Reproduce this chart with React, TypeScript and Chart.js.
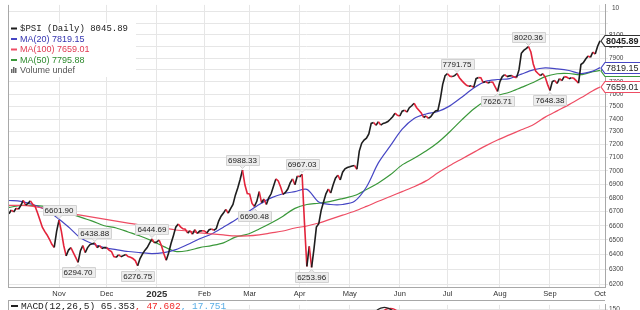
import React, { useEffect, useRef } from 'react';
import { Chart, registerables } from 'chart.js';

Chart.register(...registerables);
Chart.defaults.font.family = '"Liberation Sans", Arial, sans-serif';

// ---------------- DATA ----------------
// trading-day index: 0 = 1 Nov 2024; first close is index -21 (early Oct 2024)
const START_INDEX = -21;
const oct2024 = [6685, 6712, 6698, 6725, 6718, 6745, 6782, 6748, 6760, 6778, 6752, 6738, 6690, 6640, 6590, 6560, 6535, 6505, 6470, 6448, 6560];
const nov2024 = [6640, 6560, 6460, 6390, 6430, 6447, 6413, 6380, 6346, 6426, 6461, 6413, 6447, 6468, 6474, 6478, 6447, 6461, 6440, 6447];
const dec2024 = [6447, 6430, 6420, 6385, 6380, 6398, 6384, 6392, 6400, 6385, 6380, 6372, 6358, 6322, 6372, 6402, 6428, 6447, 6478, 6507, 6480];
const jan2025 = [6485, 6500, 6460, 6405, 6360, 6410, 6475, 6530, 6590, 6612, 6592, 6578, 6575, 6548, 6565, 6540, 6572, 6545, 6562, 6565];
const feb2025 = [6563, 6549, 6572, 6577, 6568, 6580, 6633, 6668, 6690, 6717, 6689, 6722, 6752, 6820, 6872, 6935, 7006, 6896, 6832];
const mar2025 = [6828, 6760, 6738, 6775, 6846, 6765, 6792, 6752, 6800, 6830, 6885, 6940, 6925, 6880, 6825, 6840, 6865, 6910, 6940, 6896, 6962];
const apr2025 = [6955, 6975, 6620, 6318, 6455, 6312, 6440, 6590, 6615, 6710, 6770, 6830, 6865, 6835, 6895, 6945, 6968, 6932, 6990, 7015, 7025];
const may2025 = [7030, 7036, 7040, 7012, 7150, 7210, 7235, 7250, 7282, 7365, 7372, 7350, 7378, 7352, 7365, 7370, 7380, 7398, 7418, 7446, 7430];
const jun2025 = [7424, 7462, 7470, 7455, 7490, 7506, 7526, 7492, 7470, 7448, 7412, 7424, 7405, 7418, 7446, 7465, 7470, 7560, 7680, 7752];
const jul2025 = [7768, 7748, 7744, 7752, 7770, 7735, 7711, 7690, 7672, 7665, 7668, 7655, 7727, 7736, 7735, 7695, 7703, 7690, 7700, 7698, 7660, 7622];
const aug2025 = [7703, 7744, 7760, 7744, 7750, 7752, 7740, 7736, 7800, 7940, 7965, 7980, 7998, 7951, 7850, 7790, 7770, 7752, 7768, 7740, 7680];
const sep2025 = [7630, 7703, 7711, 7687, 7727, 7711, 7744, 7740, 7727, 7735, 7730, 7711, 7690, 7845, 7860, 7892, 7917, 7905, 7951, 7934, 8001];
const oct2025 = [8045.89];
const closes = [...oct2024, ...nov2024, ...dec2024, ...jan2025, ...feb2025, ...mar2025, ...apr2025, ...may2025, ...jun2025, ...jul2025, ...aug2025, ...sep2025, ...oct2025];

const monthTickIndex = [0, 20, 41, 61, 80, 101, 122, 143, 163, 185, 206, 227];
const monthTickLabels = ['Nov', 'Dec', '2025', 'Feb', 'Mar', 'Apr', 'May', 'Jun', 'Jul', 'Aug', 'Sep', 'Oct'];
const priceTicks = [6200, 6300, 6400, 6500, 6600, 6700, 6800, 6900, 7000, 7100, 7200, 7300, 7400, 7500, 7600, 7700, 7800, 7900, 8000, 8100, 8200, 8300];
const hiddenPriceLabels = [8200, 8300];

const maIndex = [-21, -16, -11, -6, -1, 4, 9, 14, 19, 24, 29, 34, 39, 44, 49, 54, 59, 64, 69, 74, 79, 84, 89, 94, 99, 104, 109, 114, 119, 124, 129, 134, 139, 144, 149, 154, 159, 164, 169, 174, 179, 184, 189, 194, 199, 204, 209, 214, 219, 224, 227];
const ma20 = [6781, 6775, 6752, 6717, 6661, 6591, 6515, 6474, 6447, 6433, 6420, 6413, 6406, 6413, 6433, 6468, 6508, 6542, 6590, 6640, 6695, 6752, 6800, 6830, 6846, 6862, 6770, 6752, 6752, 6775, 6880, 7060, 7190, 7320, 7405, 7440, 7460, 7505, 7575, 7650, 7705, 7720, 7728, 7765, 7800, 7817, 7809, 7795, 7770, 7790, 7819.15];
const ma50 = [6731, 6745, 6745, 6738, 6717, 6689, 6661, 6633, 6600, 6584, 6556, 6528, 6494, 6454, 6420, 6426, 6447, 6461, 6480, 6520, 6540, 6577, 6619, 6668, 6724, 6752, 6761, 6775, 6795, 6817, 6861, 6910, 6970, 7045, 7095, 7150, 7216, 7300, 7393, 7480, 7547, 7590, 7615, 7655, 7695, 7744, 7768, 7770, 7760, 7785, 7795.88];
const ma100 = [6745, 6745, 6738, 6724, 6710, 6689, 6675, 6661, 6647, 6633, 6619, 6605, 6598, 6584, 6570, 6563, 6549, 6542, 6535, 6528, 6528, 6535, 6549, 6563, 6584, 6598, 6619, 6647, 6675, 6703, 6738, 6775, 6810, 6846, 6882, 6925, 6985, 7040, 7090, 7140, 7190, 7235, 7275, 7315, 7355, 7415, 7465, 7515, 7570, 7628, 7659.01];

const annotIndex = [0, 8, 15, 33, 39, 77, 82, 102, 106, 167, 184, 197, 206];
const annotText = ['6601.90', '6294.70', '6438.88', '6276.75', '6444.69', '6988.33', '6690.48', '6967.03', '6253.96', '7791.75', '7626.71', '8020.36', '7648.38'];
const annotBelow = [false, true, false, true, false, false, true, false, true, false, true, false, true];

const lastPrice = '8045.89';
const lastMa20 = '7819.15';
const lastMa100 = '7659.01';
const lastMa50 = '7795.88';

const macdIndex = [-21, 0, 20, 41, 61, 80, 101, 106, 115, 122, 126, 130, 132, 134, 136, 138, 140, 142, 144, 150, 163, 185, 206, 227];
const macdLine = [10, -55, -30, -10, 30, 55, 40, -90, 20, 80, 110, 130, 143, 150, 153, 152, 148, 141, 133, 105, 115, 55, 25, 65.353];
const macdSignal = [12, -50, -35, -15, 25, 50, 45, -60, 0, 60, 95, 118, 130, 140, 147, 151, 151, 147, 141, 118, 110, 60, 30, 47.602];
const macdTicks = [150, 100, 50];

// ---------------- STYLE ----------------
const X_MIN = -21.4;
const X_MAX = 229.1;
const UP = '#1e1e1e';
const DOWN = '#e3243b';
const C_MA20 = '#4646c4';
const C_MA50 = '#3a983a';
const C_MA100 = '#ee4d64';
const GRID = '#e6e6e6';
const FRAME = '#a8a8a8';

const pts = (idx: number[], vals: number[]) => idx.map((x, i) => ({ x, y: vals[i] }));

function drawTag(ctx: CanvasRenderingContext2D, y: number, text: string, color: string, bold: boolean) {
  const left = 601;
  const h = 11;
  const top = Math.round(y - h / 2) + 0.5;
  ctx.beginPath();
  ctx.moveTo(left, top + h / 2);
  ctx.lineTo(left + 4, top);
  ctx.lineTo(660, top);
  ctx.lineTo(660, top + h);
  ctx.lineTo(left + 4, top + h);
  ctx.closePath();
  ctx.fillStyle = '#ffffff';
  ctx.fill();
  ctx.lineWidth = 1.2;
  ctx.strokeStyle = color;
  ctx.stroke();
  ctx.fillStyle = '#222';
  ctx.font = `${bold ? 'bold ' : ''}9px "Liberation Sans", Arial, sans-serif`;
  ctx.textAlign = 'left';
  ctx.textBaseline = 'middle';
  ctx.fillText(text, left + 5, top + h / 2 + 0.5);
}

const mainDecor = {
  id: 'mainDecor',
  afterDatasetsDraw(chart: any) {
    const { ctx, scales, chartArea } = chart;
    const xs = scales.x;
    const ys = scales.y;
    ctx.save();
    // left frame
    ctx.strokeStyle = FRAME;
    ctx.lineWidth = 1;
    ctx.beginPath();
    ctx.moveTo(chartArea.left + 0.5, chartArea.top);
    ctx.lineTo(chartArea.left + 0.5, chartArea.bottom);
    ctx.stroke();
    // annotations
    ctx.font = '8px "Liberation Sans", Arial, sans-serif';
    ctx.textAlign = 'center';
    ctx.textBaseline = 'middle';
    annotIndex.forEach((idx, k) => {
      const px = xs.getPixelForValue(idx);
      const py = ys.getPixelForValue(closes[idx - START_INDEX]);
      const text = annotText[k];
      const w = Math.round(ctx.measureText(text).width) + 4;
      const h = 10;
      const below = annotBelow[k];
      const bx = Math.round(px - w / 2) + 0.5;
      const by = below ? Math.round(py + 5) + 0.5 : Math.round(py - 5 - h) + 0.5;
      ctx.fillStyle = '#ededed';
      ctx.strokeStyle = '#d2d2d2';
      ctx.lineWidth = 1;
      ctx.beginPath();
      ctx.rect(bx, by, w, h);
      ctx.fill();
      ctx.stroke();
      ctx.beginPath();
      if (below) {
        ctx.moveTo(px - 3, by);
        ctx.lineTo(px, by - 3);
        ctx.lineTo(px + 3, by);
      } else {
        ctx.moveTo(px - 3, by + h);
        ctx.lineTo(px, by + h + 3);
        ctx.lineTo(px + 3, by + h);
      }
      ctx.fill();
      ctx.stroke();
      ctx.fillStyle = '#222';
      ctx.fillText(text, px, by + h / 2 + 0.5);
    });
    ctx.restore();
  },
  afterDraw(chart: any) {
    const { ctx, scales } = chart;
    const ys = scales.y;
    ctx.save();
    // legend
    ctx.fillStyle = '#ffffff';
    ctx.fillRect(9, 23, 127, 54);
    const rows = [
      { y: 28.5, color: UP, text: `$PSI (Daily) ${lastPrice}`, tc: '#222', mono: true },
      { y: 39, color: C_MA20, text: `MA(20) ${lastMa20}`, tc: '#3535b0', mono: false },
      { y: 49.5, color: C_MA100, text: `MA(100) ${lastMa100}`, tc: '#e03a52', mono: false },
      { y: 60, color: C_MA50, text: `MA(50) ${lastMa50}`, tc: '#2e8a2e', mono: false },
    ];
    ctx.textAlign = 'left';
    ctx.textBaseline = 'middle';
    rows.forEach((r) => {
      ctx.strokeStyle = r.color;
      ctx.lineWidth = 2;
      ctx.beginPath();
      ctx.moveTo(11, r.y);
      ctx.lineTo(17, r.y);
      ctx.stroke();
      ctx.fillStyle = r.tc;
      ctx.font = r.mono ? '9px "Liberation Mono", monospace' : '9px "Liberation Sans", Arial, sans-serif';
      ctx.fillText(r.text, 20, r.y + 0.5);
    });
    ctx.fillStyle = '#666';
    ctx.fillRect(11, 69, 1.5, 4);
    ctx.fillRect(13, 67, 1.5, 6);
    ctx.fillRect(15, 68, 1.5, 5);
    ctx.fillStyle = '#555';
    ctx.font = '9px "Liberation Sans", Arial, sans-serif';
    ctx.fillText('Volume undef', 20, 71);
    // volume axis label
    ctx.fillStyle = '#444';
    ctx.font = '6.5px "Liberation Sans", Arial, sans-serif';
    ctx.fillText('10', 612, 8);
    // right-hand value tags
    drawTag(ctx, ys.getPixelForValue(Number(lastMa50)), lastMa50, C_MA50, false);
    drawTag(ctx, ys.getPixelForValue(Number(lastMa20)), lastMa20, C_MA20, false);
    drawTag(ctx, ys.getPixelForValue(Number(lastMa100)), lastMa100, C_MA100, false);
    drawTag(ctx, ys.getPixelForValue(Number(lastPrice)), lastPrice, '#333', true);
    ctx.restore();
  },
};

const macdDecor = {
  id: 'macdDecor',
  afterDraw(chart: any) {
    const { ctx, chartArea } = chart;
    ctx.save();
    ctx.strokeStyle = FRAME;
    ctx.lineWidth = 1;
    ctx.beginPath();
    ctx.moveTo(chartArea.left, 0.5);
    ctx.lineTo(chartArea.right, 0.5);
    ctx.moveTo(chartArea.left + 0.5, 0);
    ctx.lineTo(chartArea.left + 0.5, chartArea.bottom);
    ctx.stroke();
    const y = 6;
    ctx.fillStyle = '#fff';
    ctx.fillRect(9, 1, 214, 10);
    ctx.strokeStyle = '#222';
    ctx.lineWidth = 2;
    ctx.beginPath();
    ctx.moveTo(11, y);
    ctx.lineTo(18, y);
    ctx.stroke();
    ctx.font = '9.5px "Liberation Mono", monospace';
    ctx.textAlign = 'left';
    ctx.textBaseline = 'middle';
    const parts = [
      { t: `MACD(12,26,5) ${macdLine[macdLine.length - 1]}`, c: '#222' },
      { t: `, ${macdSignal[macdSignal.length - 1]}`, c: '#f02a2a' },
      { t: ', 17.751', c: '#5aaee6' },
    ];
    let x = 21;
    parts.forEach((p) => {
      ctx.fillStyle = p.c;
      ctx.fillText(p.t, x, y + 0.5);
      x += ctx.measureText(p.t).width;
    });
    ctx.restore();
  },
};

export default function App() {
  const mainRef = useRef<HTMLCanvasElement>(null);
  const macdRef = useRef<HTMLCanvasElement>(null);

  useEffect(() => {
    const priceData = closes.map((v, i) => ({ x: START_INDEX + i, y: v }));
    const main = new Chart(mainRef.current as HTMLCanvasElement, {
      type: 'line',
      data: {
        datasets: [
          {
            data: priceData,
            borderColor: UP,
            borderWidth: 1.6,
            pointRadius: 0,
            tension: 0,
            segment: {
              borderColor: (c: any) => (c.p1.parsed.y < c.p0.parsed.y ? DOWN : UP),
            },
          },
          { data: pts(maIndex, ma100), borderColor: C_MA100, borderWidth: 1.2, pointRadius: 0, tension: 0.3 },
          { data: pts(maIndex, ma20), borderColor: C_MA20, borderWidth: 1.2, pointRadius: 0, tension: 0.3 },
          { data: pts(maIndex, ma50), borderColor: C_MA50, borderWidth: 1.2, pointRadius: 0, tension: 0.3 },
        ],
      },
      options: {
        animation: false,
        responsive: false,
        maintainAspectRatio: false,
        events: [],
        layout: { padding: { left: 8, right: 0, top: 0, bottom: 0 } },
        plugins: { legend: { display: false }, tooltip: { enabled: false } },
        scales: {
          x: {
            type: 'linear',
            min: X_MIN,
            max: X_MAX,
            afterBuildTicks: (s: any) => {
              s.ticks = monthTickIndex.map((v) => ({ value: v }));
            },
            afterFit: (s: any) => {
              s.height = 13;
            },
            ticks: {
              autoSkip: false,
              maxRotation: 0,
              padding: 2,
              color: '#333',
              callback: (_v: any, i: number) => monthTickLabels[i],
              font: (c: any) =>
                c.index === 2
                  ? { size: 9.5, weight: 'bold' }
                  : { size: 7.5 },
            },
            grid: { color: GRID, drawTicks: false },
            border: { color: FRAME },
          },
          y: {
            type: 'logarithmic',
            position: 'right',
            min: 6180.4,
            max: 8363,
            afterBuildTicks: (s: any) => {
              s.ticks = priceTicks.map((v) => ({ value: v }));
            },
            afterFit: (s: any) => {
              s.width = 35;
            },
            ticks: {
              autoSkip: false,
              padding: 1,
              color: '#444',
              font: { size: 6.5 },
              callback: (v: any) => (hiddenPriceLabels.includes(Number(v)) ? '' : String(v)),
            },
            grid: { color: GRID, tickLength: 3 },
            border: { color: FRAME },
          },
        },
      } as any,
      plugins: [mainDecor],
    } as any);

    const macd = new Chart(macdRef.current as HTMLCanvasElement, {
      type: 'line',
      data: {
        datasets: [
          { data: pts(macdIndex, macdLine), borderColor: '#222', borderWidth: 1.3, pointRadius: 0, tension: 0.4 },
          { data: pts(macdIndex, macdSignal), borderColor: DOWN, borderWidth: 1.3, pointRadius: 0, tension: 0.4 },
        ],
      },
      options: {
        animation: false,
        responsive: false,
        maintainAspectRatio: false,
        events: [],
        layout: { padding: { left: 8, right: 0, top: 0, bottom: 0 } },
        plugins: { legend: { display: false }, tooltip: { enabled: false } },
        scales: {
          x: {
            type: 'linear',
            min: X_MIN,
            max: X_MAX,
            afterBuildTicks: (s: any) => {
              s.ticks = monthTickIndex.map((v) => ({ value: v }));
            },
            afterFit: (s: any) => {
              s.height = 0;
            },
            ticks: { display: false },
            grid: { color: GRID, drawTicks: false },
            border: { display: false },
          },
          y: {
            type: 'linear',
            position: 'right',
            min: 37.5,
            max: 157.5,
            afterBuildTicks: (s: any) => {
              s.ticks = macdTicks.map((v) => ({ value: v }));
            },
            afterFit: (s: any) => {
              s.width = 35;
            },
            ticks: { padding: 1, color: '#444', font: { size: 6.5 } },
            grid: { color: GRID, tickLength: 3 },
            border: { color: FRAME },
          },
        },
      } as any,
      plugins: [macdDecor],
    } as any);

    return () => {
      main.destroy();
      macd.destroy();
    };
  }, []);

  return (
    <div style={{ position: 'fixed', left: 0, top: 0, width: 640, height: 310, overflow: 'hidden', background: '#fff' }}>
      <canvas ref={mainRef} width={640} height={300} style={{ position: 'absolute', left: 0, top: 0, width: 640, height: 300 }} />
      <canvas ref={macdRef} width={640} height={80} style={{ position: 'absolute', left: 0, top: 300, width: 640, height: 80 }} />
    </div>
  );
}
